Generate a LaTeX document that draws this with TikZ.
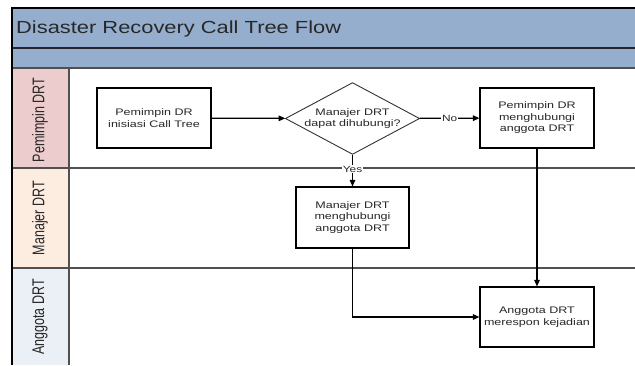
\documentclass[tikz,border=0pt]{standalone}
\usepackage{graphicx}
\usepackage{fontspec}
\setmainfont{Liberation Sans}
\newfontfamily\boxfont[FakeStretch=1.32]{Liberation Sans}
\newfontfamily\titlefont[FakeStretch=1.25]{Liberation Sans}
\usetikzlibrary{shapes.geometric,arrows.meta}
\definecolor{hdr}{RGB}{149,174,206}
\definecolor{lanepink}{RGB}{236,204,204}
\definecolor{lanepeach}{RGB}{253,236,224}
\definecolor{laneblue}{RGB}{235,240,246}
\definecolor{laneline}{RGB}{80,80,80}
\definecolor{txt}{RGB}{40,40,40}
\begin{document}
\begin{tikzpicture}[x=1pt,y=-1pt,
  proc/.style={draw=black, line width=1.1pt, minimum width=114pt, minimum height=60pt,
    inner sep=0pt, align=center, text=txt, fill=white,
    font=\boxfont\fontsize{9.5}{11.5}\selectfont},
  decision/.style={draw=black!80, line width=0.9pt, shape=diamond, aspect=1.87,
    minimum width=133pt, minimum height=71pt, inner sep=0pt, align=center, text=txt,
    fill=white, font=\boxfont\fontsize{9.5}{11.5}\selectfont},
  flow/.style={line width=1.2pt, -{Triangle[length=6.5pt,width=5.5pt]}},
  lbl/.style={fill=white, inner sep=1pt, text=txt, font=\boxfont\fontsize{9}{10}\selectfont},
  lanelbl/.style={rotate=90, text=txt, inner sep=0pt, font=\fontsize{12.5}{14}\selectfont},
  sep/.style={draw=laneline, line width=1.2pt}
]
\useasboundingbox[fill=white] (0,0) rectangle (635,365);
% bands
\fill[hdr] (12,8) rectangle (635,68);
\fill[lanepink] (12,68) rectangle (69,168);
\fill[lanepeach] (12,168) rectangle (69,268);
\fill[laneblue] (12,268) rectangle (69,365);
% lines
\draw[sep, draw=black!85] (12,48) -- (635,48);
\draw[sep] (12,68) -- (635,68);
\draw[sep] (12,168) -- (635,168);
\draw[sep] (12,268) -- (635,268);
\draw[sep] (69,68) -- (69,365);
\draw[line width=1.4pt] (12,365) -- (12,8) -- (635,8);
% title
\node[anchor=base west, inner sep=0pt, text=txt, font=\titlefont\fontsize{17.5}{20}\selectfont] (title) at (16,33.5) {Disaster Recovery Call Tree Flow};
% lane labels
\node[lanelbl] (l1) at (40,120) {\scalebox{1}[1.35]{Pemimpin DRT}};
\node[lanelbl] (l2) at (40,218) {\scalebox{1}[1.35]{Manajer DRT}};
\node[lanelbl] (l3) at (40,317) {\scalebox{1}[1.35]{Anggota DRT}};
% nodes
\node[proc] (init) at (154,118) {Pemimpin DR\\inisiasi Call Tree};
\node[decision] (dec) at (352.5,118.5) {Manajer DRT\\dapat dihubungi?};
\node[proc] (pem) at (537,118) {Pemimpin DR\\menghubungi\\anggota DRT};
\node[proc, minimum width=113pt, minimum height=61pt] (man) at (352.5,217.5) {Manajer DRT\\menghubungi\\anggota DRT};
\node[proc] (ang) at (537,317) {Anggota DRT\\merespon kejadian};
% connectors
\draw[flow] (init) -- (dec);
\draw[flow] (dec) -- node[lbl, pos=0.5] (no) {No} (pem);
\draw[flow] (dec) -- node[lbl, pos=0.45] (yes) {Yes} (man);
\draw[flow] (pem) -- (ang);
\draw[flow] (man.south) |- (ang.west);
\end{tikzpicture}
\end{document}
